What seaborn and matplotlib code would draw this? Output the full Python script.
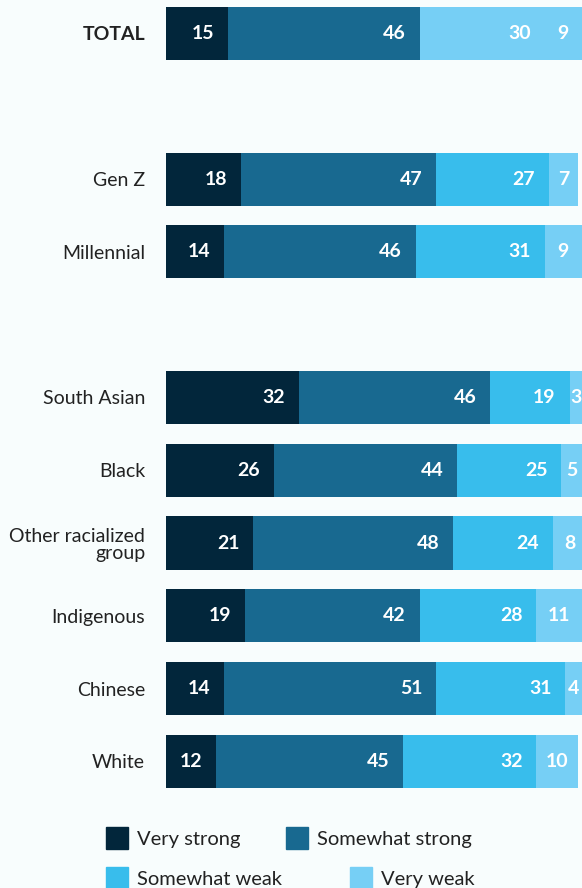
import matplotlib
matplotlib.use('Agg')
import matplotlib.pyplot as plt
import matplotlib.patches as mpatches
import pandas as pd
import seaborn as sns
import numpy as np

# rows (None = empty spacer slot)
groups = ['TOTAL', None, 'Gen Z', 'Millennial', None, 'South Asian', 'Black',
          'Other racialized\ngroup', 'Indigenous', 'Chinese', 'White']
very_strong = [15, None, 18, 14, None, 32, 26, 21, 19, 14, 12]
somewhat_strong = [46, None, 47, 46, None, 46, 44, 48, 42, 51, 45]
somewhat_weak = [30, None, 27, 31, None, 19, 25, 24, 28, 31, 32]
very_weak = [9, None, 7, 9, None, 3, 5, 8, 11, 4, 10]

series = ['Very strong', 'Somewhat strong', 'Somewhat weak', 'Very weak']
colors = ['#02263B', '#186990', '#38BDEC', '#76CFF5']
bg = '#F8FDFD'

sns.set_theme(style='white')
plt.rcParams['font.family'] = ['Lato', 'DejaVu Sans']

rows = []
for i, g in enumerate(groups):
    if g is None:
        continue
    rows.append([i, g, very_strong[i], somewhat_strong[i], somewhat_weak[i], very_weak[i]])
df = pd.DataFrame(rows, columns=['pos', 'group'] + series)
cum = df[series].cumsum(axis=1)

fig = plt.figure(figsize=(5.82, 8.88), dpi=100, facecolor=bg)
ax = fig.add_axes([166 / 582, 1 - 800 / 888, 416 / 582, 800 / 888])
ax.set_facecolor(bg)

# draw layers from the widest cumulative down
for k in range(3, -1, -1):
    sns.barplot(x=cum[series[k]], y=df['pos'], orient='h', native_scale=True,
                color=colors[k], width=0.73, saturation=1, ax=ax, linewidth=0)
    if k == 2:
        # TOTAL row shows its "somewhat weak" part in the lighter tone
        ax.containers[-1].patches[0].set_facecolor(colors[3])

for _, r in df.iterrows():
    c = 0
    for k, s in enumerate(series):
        v = r[s]
        c += v
        if k < 3:
            ax.annotate(str(v), (c, r['pos']), xytext=(-10, 0), textcoords='offset points',
                        ha='right', va='center', color='white', fontsize=14, fontweight='bold')
        else:
            ax.annotate(str(v), (c - v / 2, r['pos']), ha='center', va='center',
                        color='white', fontsize=14, fontweight='bold')

ax.set_xlim(0, 100)
ax.set_ylim(10.53, -0.46)
ax.set_yticks(df['pos'])
ax.set_yticklabels(df['group'], fontsize=14, color='#222222', ha='right',
                   multialignment='right', linespacing=1.05)
ax.get_yticklabels()[0].set_fontweight('bold')
ax.tick_params(axis='y', length=0, pad=15)
ax.set_xticks([])
ax.set_xlabel('')
ax.set_ylabel('')
sns.despine(ax=ax, left=True, bottom=True)

# legend items placed individually (rows are not column-aligned)
leg_pos = [(106, 838), (286, 838), (106, 878), (350, 878)]
for c, s, (lx, ly) in zip(colors, series, leg_pos):
    fig.legend(handles=[mpatches.Patch(color=c, label=s)], loc='center left',
               bbox_to_anchor=(lx / 582, 1 - ly / 888), frameon=False, fontsize=14.5,
               handlelength=1.1, handleheight=1.3, handletextpad=0.45, borderpad=0,
               borderaxespad=0, labelcolor='#222222')

fig.savefig('out.png', dpi=100, facecolor=bg)
